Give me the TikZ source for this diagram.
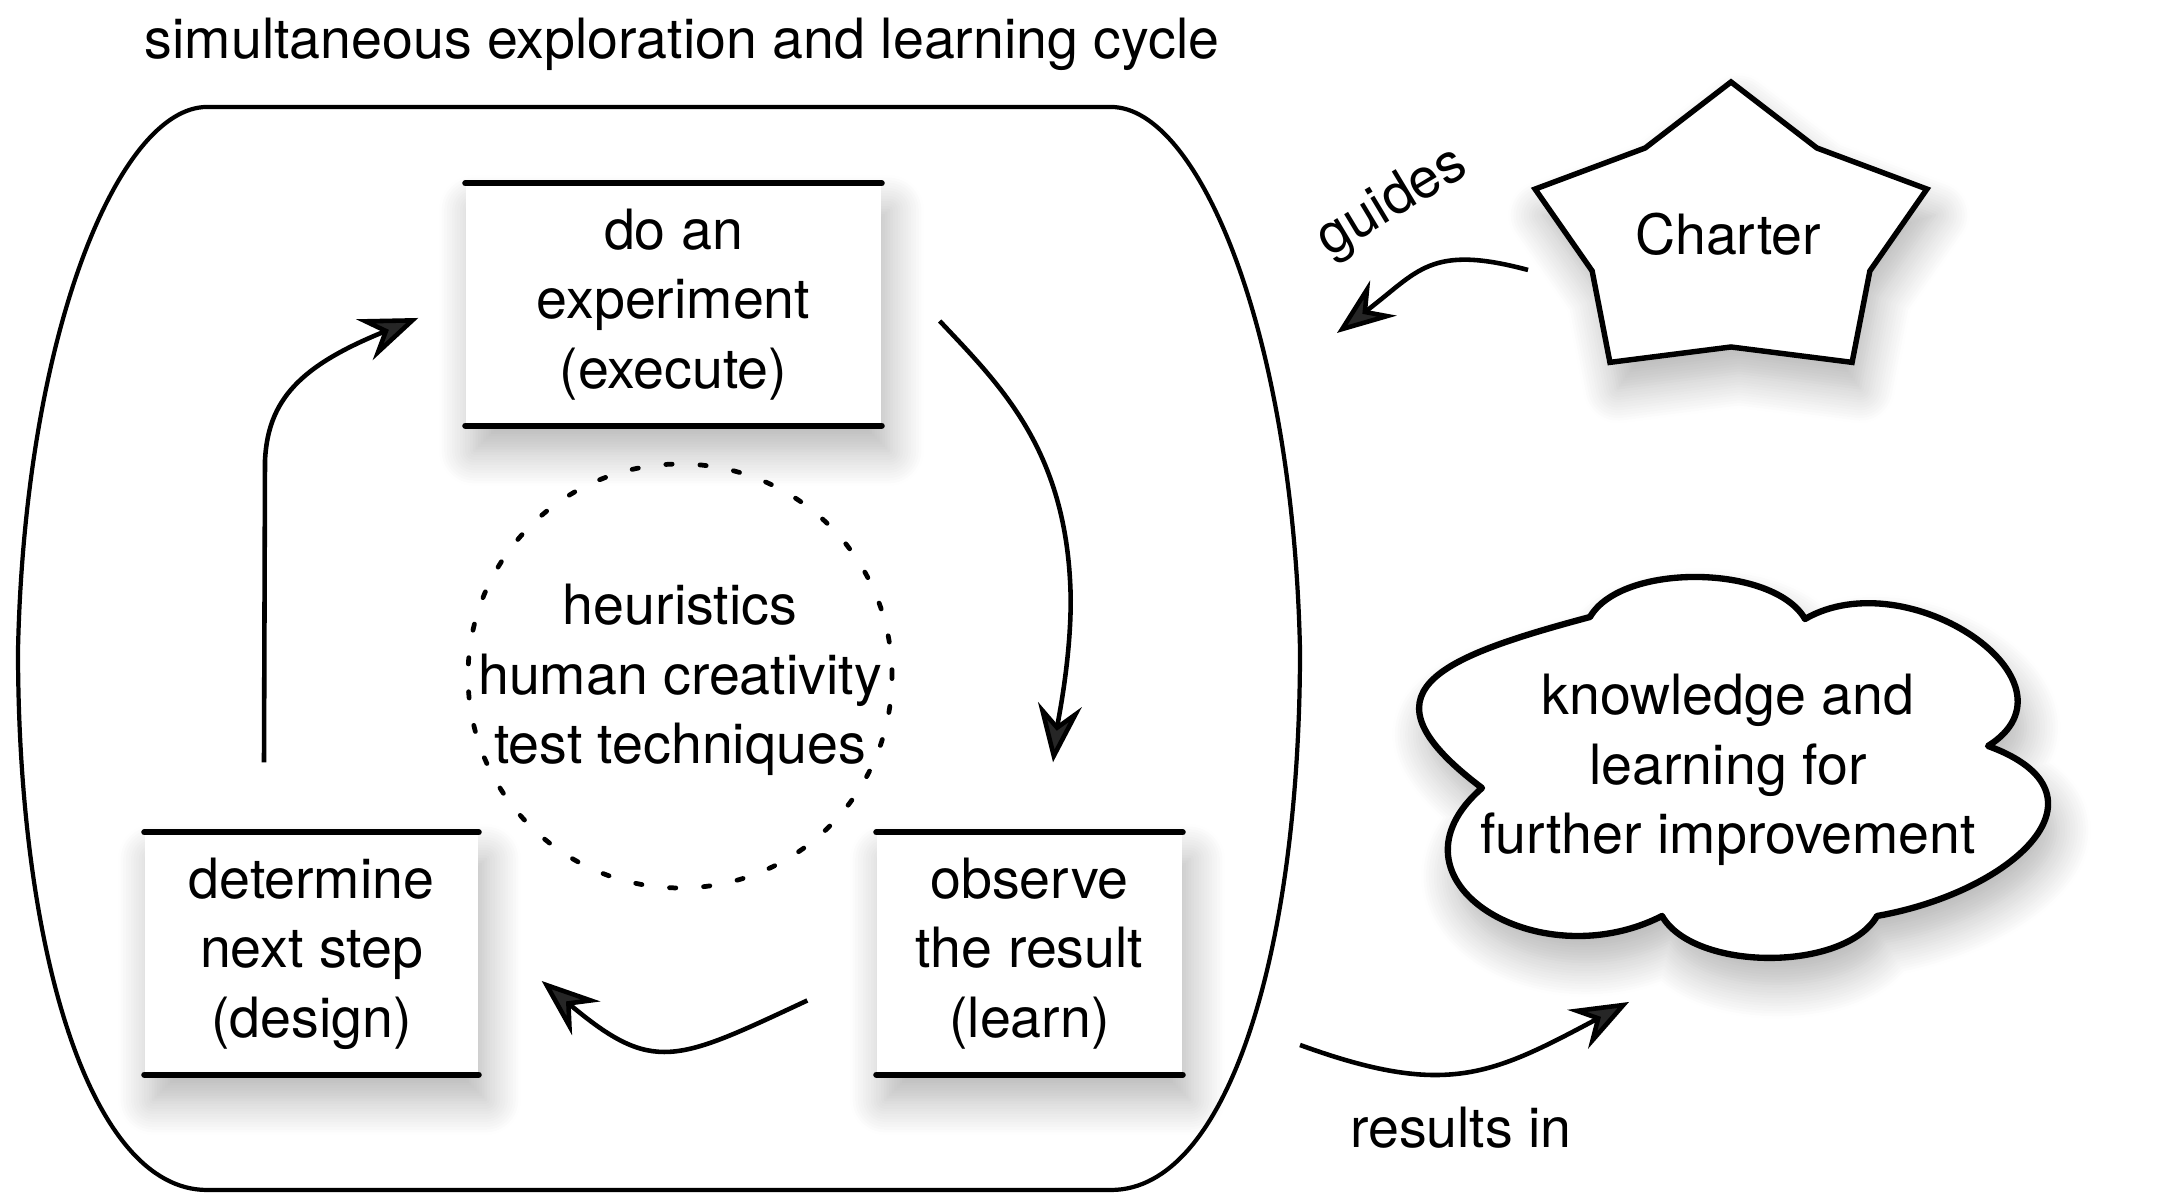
\documentclass[tikz,border=0pt]{standalone}
\usepackage{fontspec}
\setmainfont{TeX Gyre Heros}
\usetikzlibrary{arrows.meta, shadows.blur}

\begin{document}
\begin{tikzpicture}[x=0.1mm, y=0.1mm, font=\fontsize{15.8pt}{19.8pt}\selectfont]
    \tikzstyle{softshadow} = [blur shadow={shadow xshift=0.8mm, shadow yshift=-2.6mm, shadow blur radius=3.5mm, shadow opacity=30, shadow blur steps=14}]
    \tikzstyle{stepbox} = [rectangle, fill=white, text centered, align=center, minimum height=24.1mm, inner sep=0pt, softshadow]
    \tikzstyle{barline} = [line width=1.75pt, line cap=round]
    \tikzstyle{cycleline} = [line width=1.2pt]
    \tikzstyle{dotline} = [line width=1.35pt, line cap=round, dash pattern=on 1.8pt off 7.9pt]
    \tikzstyle{starline} = [line width=1.55pt, fill=white, softshadow]
    \tikzstyle{cloudline} = [line width=1.8pt, line join=round, fill=white, softshadow]
    \tikzstyle{arrow} = [line width=1.3pt, -{Stealth[length=16.5pt, width=12.5pt, inset=5.7pt]}]

    \useasboundingbox (0,0) rectangle (2166,1201);

    \node (title) [anchor=base] at (682,1142) {simultaneous exploration and learning cycle};

    % the cycle
    \draw [cycleline] (207,1094) -- (1111,1094) .. controls (1198,1094) and (1293,871) .. (1300,551)
        .. controls (1300,251) and (1228,11) .. (1111,11) -- (207,11)
        .. controls (90,11) and (18,251) .. (18,551) .. controls (25,871) and (120,1094) .. (207,1094) -- cycle;

    \node (exec) [stepbox, minimum width=41.5mm] at (673.5,896.5) {do an\\experiment\\(execute)};
    \node (design) [stepbox, minimum width=33.3mm] at (311.5,247.5) {determine\\next step\\(design)};
    \node (learn) [stepbox, minimum width=30.5mm] at (1029.5,247.5) {observe\\the result\\(learn)};
    \foreach \b in {exec, design, learn} {
        \draw [barline] (\b.north west) -- (\b.north east);
        \draw [barline] (\b.south west) -- (\b.south east);
    }

    \node (heur) [align=center] at (680,521) {heuristics\\human creativity\\test techniques};
    \draw [dotline] (680,525) circle [radius=21.2mm];

    % charter and knowledge
    \draw [starline, shift={(1731,964)}] (90:206 and 155) -- (126:146 and 110) -- (162:206 and 155)
        -- (198:146 and 110) -- (234:206 and 155) -- (270:146 and 110) -- (306:206 and 155)
        -- (342:146 and 110) -- (18:206 and 155) -- (54:146 and 110) -- cycle;
    \node (charter) [anchor=base] at (1728,946) {Charter};
    \node (guides) [rotate=31, anchor=base] at (1400,986) {guides};

    \draw [cloudline] (1590,584) to [out=60, in=120, looseness=0.75] (1805,582)
        to [out=30, in=32, looseness=1.37] (1988,455)
        to [out=-20, in=10, looseness=1.76] (1877,285)
        to [out=240, in=300, looseness=0.77] (1662,285)
        to [out=207, in=221, looseness=1.62] (1482,413)
        to [out=143, in=195, looseness=2.02] (1590,584) -- cycle;
    \node (knowledge) [align=center] at (1728,431) {knowledge and\\learning for\\further improvement};
    \node (results) [anchor=base] at (1461,53) {results in};

    % Arrows
    \coordinate (upfrom) at ([shift={(-47.5,70)}]design.north);
    \coordinate (upto) at ([shift={(-47,-13.5)}]exec.west);
    \coordinate (downfrom) at ([shift={(58,-16.5)}]exec.east);
    \coordinate (downto) at ([shift={(23.5,70)}]learn.north);
    \coordinate (backfrom) at ([shift={(-69,-47)}]learn.west);
    \coordinate (backto) at ([shift={(63,-27.5)}]design.east);
    \coordinate (guidesfrom) at ([shift={(-200,-15)}]charter.base);
    \coordinate (guidesto) at ([shift={(-391,-78)}]charter.base);
    \coordinate (resultsfrom) at ([shift={(-161,103)}]results.base);
    \coordinate (resultsto) at ([shift={(-99,-232)}]knowledge.center);

    \draw [arrow] (upfrom) -- ++(1,302) .. controls +(3,60) and +(-119,-48) .. (upto);
    \draw [arrow] (downfrom) .. controls +(61,-65) and +(-2,149) .. ++(131,-279) .. controls +(0,-61) and +(5,42) .. (downto);
    \draw [arrow] (backfrom) to [out=205, in=-40, looseness=1.4] (backto);
    \draw [arrow] (guidesfrom) to [out=165, in=37, looseness=1.3] (guidesto);
    \draw [arrow] (resultsfrom) to [out=-20, in=208, looseness=1.2] (resultsto);
\end{tikzpicture}
\end{document}
